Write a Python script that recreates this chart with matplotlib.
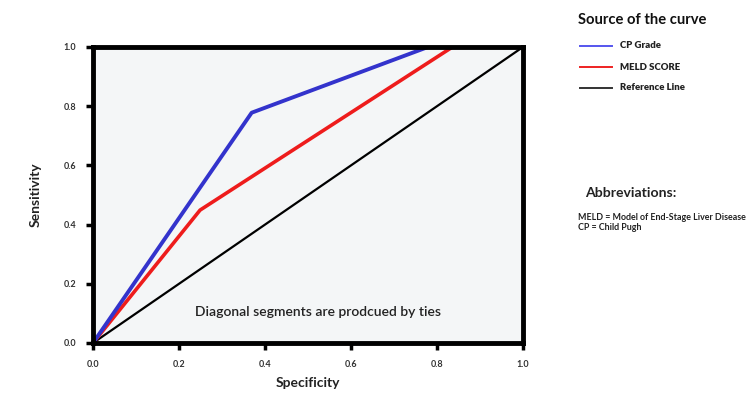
import matplotlib.pyplot as plt

plt.rcParams['font.family'] = ['Lato', 'DejaVu Sans']

# ROC curve points (1 - specificity on x, sensitivity on y)
cp_x = [0.0, 0.369, 0.779, 1.0]
cp_y = [0.0, 0.778, 1.0, 1.0]
meld_x = [0.0, 0.249, 0.836, 1.0]
meld_y = [0.0, 0.449, 1.0, 1.0]
ref_x = [0.0, 1.0]
ref_y = [0.0, 1.0]
ticks = [0.0, 0.2, 0.4, 0.6, 0.8, 1.0]
tick_labels = ["0.0", "0.2", "0.4", "0.6", "0.8", "1.0"]

fig = plt.figure(figsize=(7.5, 3.95), dpi=100)
ax = fig.add_axes([93 / 750, 1 - 343 / 395, 430 / 750, 296 / 395])
ax.set_facecolor("#f4f6f7")

ax.plot(ref_x, ref_y, color="black", lw=1.6, zorder=2)
ax.plot(meld_x, meld_y, color="#ee1c1c", lw=2.6, zorder=2.1)
ax.plot(cp_x, cp_y, color="#3333cc", lw=2.8, zorder=2.2)

ax.set_xlim(0, 1)
ax.set_ylim(0, 1)
ax.set_xticks(ticks)
ax.set_xticklabels(tick_labels)
ax.set_yticks(ticks)
ax.set_yticklabels(tick_labels)
ax.tick_params(length=5, width=2.5, labelsize=6.5, pad=7)
for lbl in ax.get_xticklabels() + ax.get_yticklabels():
    lbl.set_fontweight("bold")
    lbl.set_color("#333333")
for s in ax.spines.values():
    s.set_linewidth(3.5)
    s.set_zorder(3)

ax.set_xlabel("Specificity", fontsize=10, fontweight="bold", color="#222222", labelpad=6)
ax.set_ylabel("Sensitivity", fontsize=10, fontweight="bold", color="#222222", labelpad=16)

ax.text(0.523, 0.105, "Diagonal segments are prodcued by ties", fontsize=10,
        fontweight="semibold", color="#222222", ha="center", va="center")

# legend area drawn in figure coordinates
fig.text(578 / 750, 1 - 20 / 395, "Source of the curve", fontsize=10.6,
         fontweight="bold", color="#111111", va="center")
leg_items = [("CP Grade", "#5555ee"), ("MELD SCORE", "#ee2222"), ("Reference Line", "#333333")]
for i, (name, col) in enumerate(leg_items):
    yy = 1 - (46 + i * 21) / 395
    fig.add_artist(plt.Line2D([580 / 750, 612 / 750], [yy, yy], color=col, lw=1.4,
                              transform=fig.transFigure))
    fig.text(620 / 750, yy, name, fontsize=6.9, fontweight="heavy", color="#222222", va="center")

fig.text(585 / 750, 1 - 193 / 395, "Abbreviations:", fontsize=10.1,
         fontweight="bold", color="#222222", va="center")
fig.text(578 / 750, 1 - 217 / 395, "MELD = Model of End-Stage Liver Disease", fontsize=6.4,
         fontweight="bold", color="#222222", va="center")
fig.text(578 / 750, 1 - 228 / 395, "CP = Child Pugh", fontsize=6.4,
         fontweight="bold", color="#222222", va="center")

fig.savefig("out.png", dpi=100)
